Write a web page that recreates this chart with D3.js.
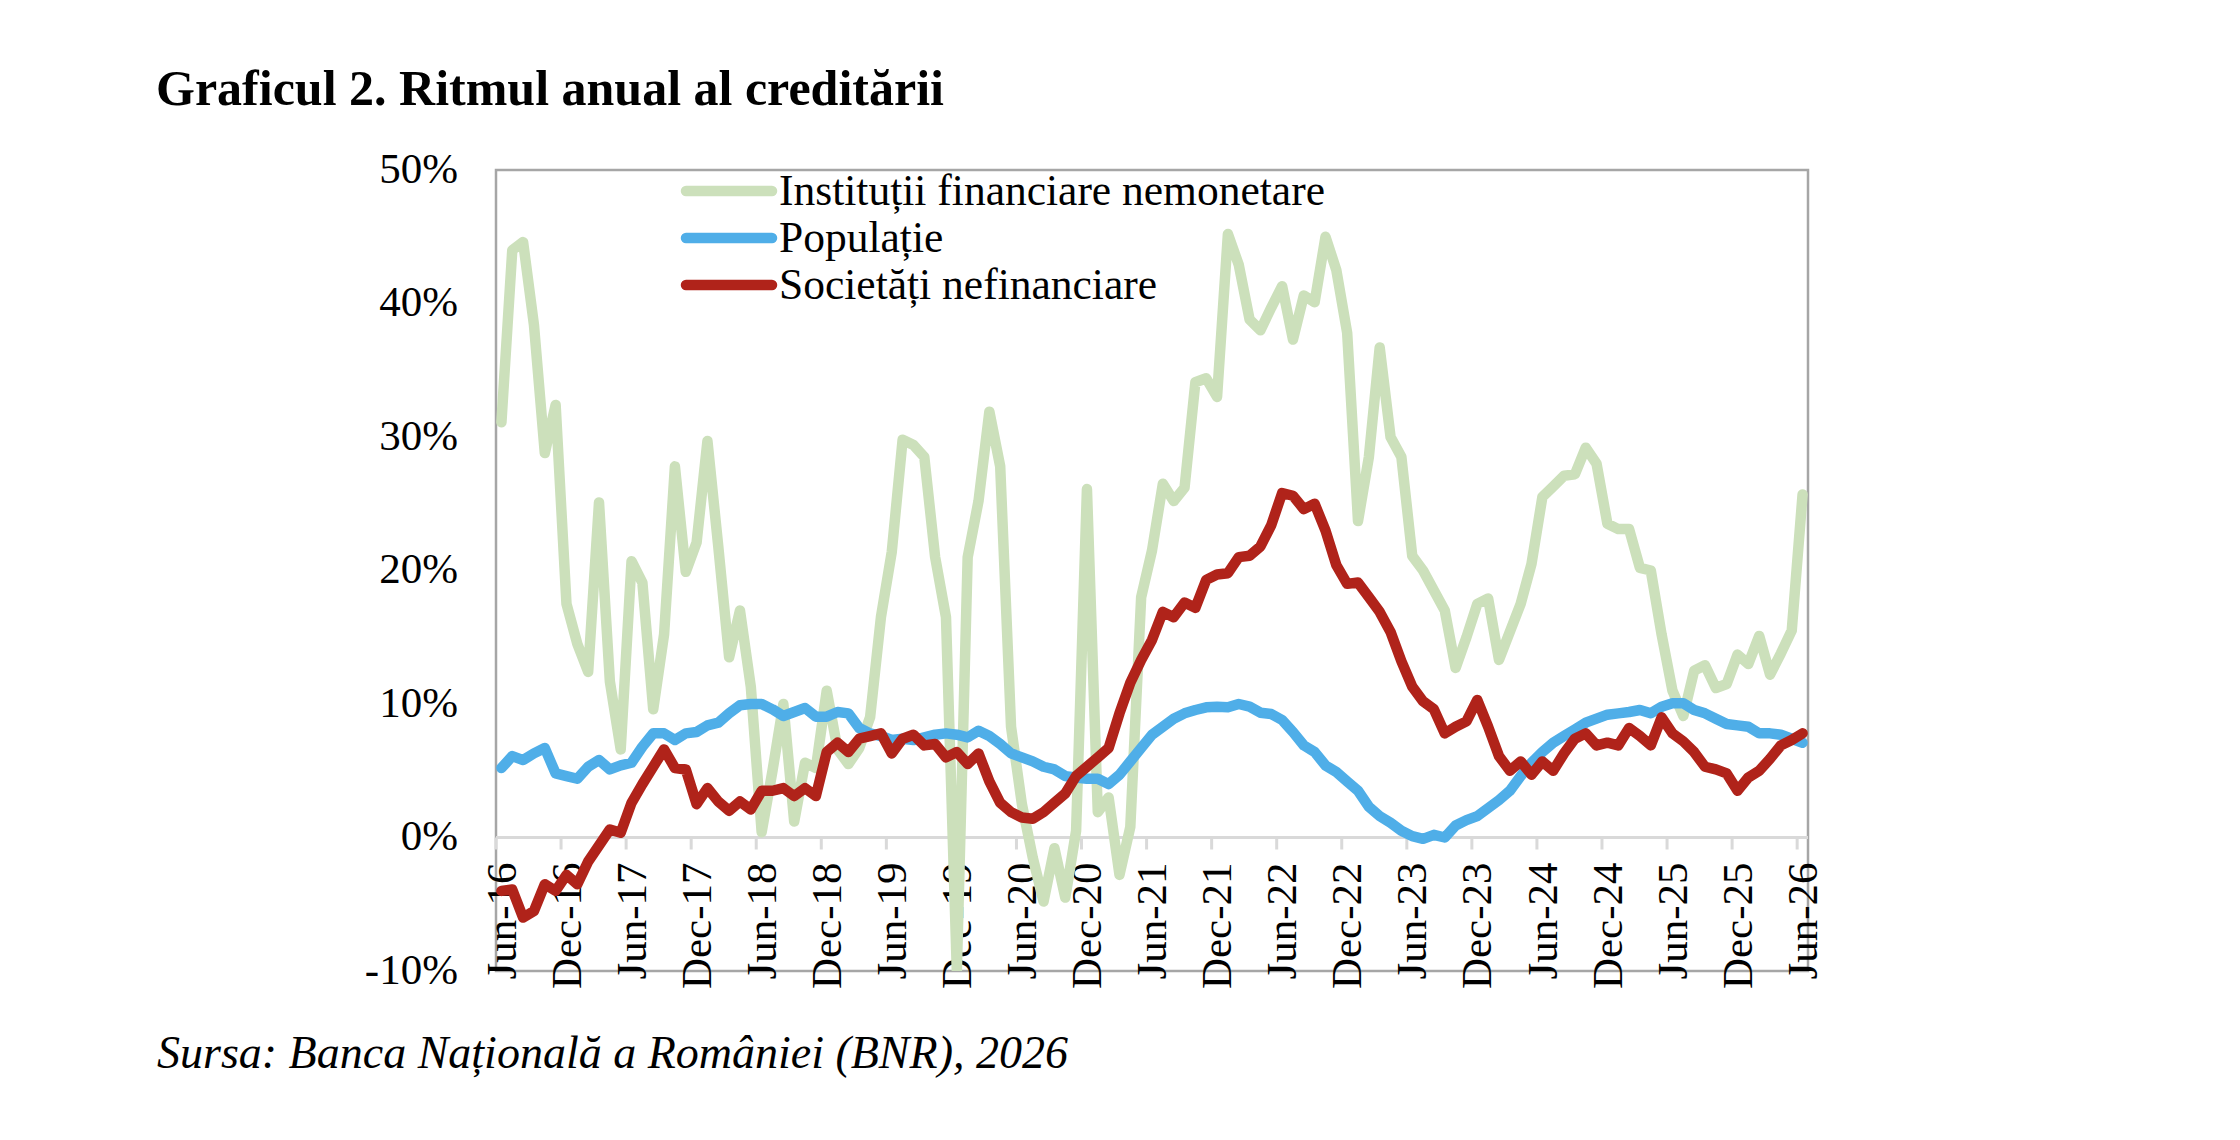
<!DOCTYPE html>
<html>
<head>
<meta charset="utf-8">
<title>Graficul 2. Ritmul anual al creditării</title>
<script src="https://cdnjs.cloudflare.com/ajax/libs/d3/7.8.5/d3.min.js"></script>
<style>
  body { margin: 0; background: #fff; }
  svg text { font-family: "Liberation Serif", "Times New Roman", serif; fill: #000; }
</style>
</head>
<body>
<svg id="chart" width="2240" height="1140"></svg>
<script>
// categories: monthly, Jun-16 .. Jun-26
const months = d3.timeMonth.range(new Date(2016, 5, 1), new Date(2026, 6, 1));
const tickLabels = ["Jun-16","Dec-16","Jun-17","Dec-17","Jun-18","Dec-18","Jun-19","Dec-19",
  "Jun-20","Dec-20","Jun-21","Dec-21","Jun-22","Dec-22","Jun-23","Dec-23","Jun-24","Dec-24",
  "Jun-25","Dec-25","Jun-26"];
const yTicks = [-10, 0, 10, 20, 30, 40, 50];

const seriesNames = ["Instituții financiare nemonetare", "Populație", "Societăți nefinanciare"];

// annual growth rates, %
const ifn = [31.1,44.0,44.6,38.4,28.8,32.4,17.5,14.5,12.4,25.1,11.7,6.6,20.7,19.1,9.6,15.2,27.8,19.9,22.1,29.7,
  21.8,13.5,17.0,11.3,0.4,5.0,10.0,1.2,5.6,5.2,11.0,6.6,5.5,6.7,9.0,16.5,21.4,29.8,29.4,28.5,
  21.0,16.5,-10.0,21.0,25.2,31.9,27.8,8.3,2.5,-1.5,-4.8,-0.8,-4.5,0.5,26.1,1.9,3.0,-2.8,0.8,18.0,
  21.5,26.5,25.2,26.2,34.1,34.4,33.0,45.2,42.9,38.8,38.0,39.7,41.3,37.3,40.6,40.1,45.0,42.5,37.8,23.7,
  28.5,36.7,30.0,28.5,21.1,20.0,18.5,17.0,12.7,15.0,17.5,17.9,13.3,15.4,17.5,20.5,25.5,26.3,27.1,27.2,
  29.2,28.0,23.5,23.1,23.1,20.2,20.0,15.2,11.0,9.1,12.5,12.9,11.2,11.5,13.7,13.0,15.1,12.2,13.8,15.5,
  25.7];
const populatie = [5.2,6.1,5.8,6.3,6.7,4.8,4.6,4.4,5.3,5.8,5.1,5.4,5.6,6.8,7.8,7.8,7.3,7.8,7.9,8.4,
  8.6,9.3,9.9,10.0,10.0,9.6,9.1,9.4,9.7,9.05,9.05,9.4,9.3,8.2,7.8,7.6,7.3,7.4,7.3,7.5,
  7.7,7.8,7.7,7.5,8.0,7.6,7.0,6.3,6.0,5.7,5.3,5.1,4.6,4.5,4.4,4.4,4.0,4.7,5.7,6.7,
  7.7,8.3,8.9,9.3,9.55,9.75,9.8,9.75,10.0,9.8,9.35,9.25,8.8,7.9,6.9,6.4,5.4,4.9,4.2,3.5,
  2.3,1.6,1.1,0.5,0.1,-0.1,0.2,0.0,0.9,1.3,1.6,2.2,2.8,3.5,4.6,5.6,6.4,7.1,7.6,8.1,
  8.6,8.9,9.2,9.3,9.4,9.55,9.3,9.8,10.05,10.05,9.55,9.3,8.9,8.5,8.4,8.3,7.8,7.8,7.7,7.4,
  7.1];
const societati = [-4.0,-3.9,-6.0,-5.5,-3.5,-4.0,-2.8,-3.5,-1.8,-0.6,0.6,0.35,2.6,4.0,5.3,6.6,5.2,5.1,2.5,3.7,
  2.7,2.0,2.7,2.1,3.5,3.5,3.7,3.1,3.7,3.1,6.4,7.1,6.4,7.4,7.6,7.8,6.3,7.4,7.7,6.9,
  7.0,6.0,6.4,5.5,6.3,4.2,2.6,1.9,1.5,1.4,1.9,2.6,3.3,4.6,5.3,6.0,6.7,9.3,11.6,13.3,
  14.8,16.9,16.5,17.6,17.2,19.3,19.7,19.8,21.0,21.1,21.8,23.4,25.8,25.6,24.6,25.0,23.0,20.4,19.0,19.1,
  18.0,16.9,15.4,13.2,11.3,10.2,9.6,7.8,8.3,8.7,10.3,8.3,6.1,5.0,5.7,4.7,5.7,5.0,6.3,7.4,
  7.8,6.9,7.1,6.9,8.2,7.6,6.9,9.0,7.8,7.2,6.4,5.3,5.1,4.8,3.5,4.5,5.0,5.9,6.9,7.3,
  7.8];

const colors = ["#cce0bb", "#4faee8", "#b0231a"];
const series = [ifn, populatie, societati];

const svg = d3.select("#chart");
const plot = { left: 496, right: 1808, top: 170, bottom: 971 };

const x = d3.scaleBand().domain(months.map((d, i) => i)).range([plot.left, plot.right]).padding(0);
const y = d3.scaleLinear().domain([-10, 50]).range([plot.bottom, plot.top]);
const xc = i => x(i) + x.bandwidth() / 2;

// title
svg.append("text").attr("x", 156).attr("y", 105)
  .style("font-size", "50px").style("font-weight", "bold")
  .text("Graficul 2. Ritmul anual al creditării");

// plot frame
svg.append("rect").attr("x", plot.left).attr("y", plot.top)
  .attr("width", plot.right - plot.left).attr("height", plot.bottom - plot.top)
  .attr("fill", "none").attr("stroke", "#a6a6a6").attr("stroke-width", 2.5);

// y axis labels
const yAxis = svg.append("g").attr("transform", `translate(${plot.left},0)`)
  .call(d3.axisLeft(y).tickValues(yTicks).tickFormat(d => d + "%").tickSize(0).tickPadding(38));
yAxis.select(".domain").remove();
yAxis.attr("font-family", null).attr("font-size", null);
yAxis.selectAll("text").style("font-size", "43px").attr("dy", "0.28em");

// zero line with tick marks
const zeroY = y(0);
svg.append("line").attr("x1", plot.left).attr("x2", plot.right).attr("y1", zeroY).attr("y2", zeroY)
  .attr("stroke", "#d9d9d9").attr("stroke-width", 3);
const tickIdx = d3.range(0, months.length, 6);
svg.append("g").selectAll("line").data(tickIdx).join("line")
  .attr("x1", d => x(d)).attr("x2", d => x(d))
  .attr("y1", zeroY).attr("y2", zeroY + 12)
  .attr("stroke", "#d9d9d9").attr("stroke-width", 3);

// x labels (rotated)
svg.append("g").selectAll("text").data(tickIdx).join("text")
  .attr("transform", d => `translate(${xc(d)},${zeroY + 25}) rotate(-90)`)
  .attr("text-anchor", "end").attr("dy", "0.33em")
  .style("font-size", "43px")
  .text((d, i) => tickLabels[i]);

// lines
svg.append("clipPath").attr("id", "plotclip").append("rect")
  .attr("x", plot.left).attr("y", plot.top)
  .attr("width", plot.right - plot.left).attr("height", plot.bottom - plot.top);

const line = d3.line().x((d, i) => xc(i)).y(d => y(d));
const lines = svg.append("g").attr("clip-path", "url(#plotclip)");
series.forEach((s, k) => {
  lines.append("path").datum(s)
    .attr("d", line)
    .attr("fill", "none").attr("stroke", colors[k]).attr("stroke-width", 10.5)
    .attr("stroke-linejoin", "round").attr("stroke-linecap", "round");
});

// legend
const legend = svg.append("g");
seriesNames.forEach((name, k) => {
  const cy = 191 + k * 47;
  legend.append("line").attr("x1", 686).attr("x2", 772).attr("y1", cy).attr("y2", cy)
    .attr("stroke", colors[k]).attr("stroke-width", 10.5).attr("stroke-linecap", "round");
  legend.append("text").attr("x", 779).attr("y", cy).attr("dy", "0.33em")
    .style("font-size", "43.5px").text(name);
});

// source
svg.append("text").attr("x", 157).attr("y", 1068)
  .style("font-size", "46px").style("font-style", "italic")
  .text("Sursa: Banca Națională a României (BNR), 2026");
</script>
</body>
</html>
